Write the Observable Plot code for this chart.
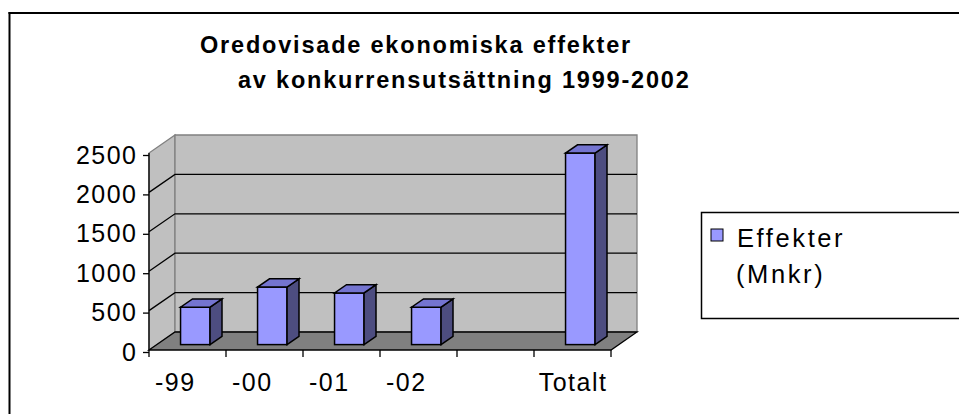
<!DOCTYPE html>
<html><head><meta charset="utf-8">
<script src="https://cdn.jsdelivr.net/npm/d3@7"></script>
<script src="https://cdn.jsdelivr.net/npm/@observablehq/plot@0.6"></script>
<style>
html,body{margin:0;padding:0;background:#fff;}
#wrap{position:relative;width:959px;height:414px;overflow:hidden;font-family:"Liberation Sans",Arial,sans-serif;}
#wrap > svg{position:absolute;left:0;top:0;}
</style></head><body><div id="wrap"></div>
<script>
// ---- data ----
const categories = ["-99", "-00", "-01", "-02", " ", "Totalt"];
const tickLabels = ["-99   ", "-00   ", "-01   ", "-02   ", "", "Totalt"];
const values = [475, 730, 655, 475, null, 2430];
const yTicks = [0, 500, 1000, 1500, 2000, 2500];
const gridValues = [500, 1000, 1500, 2000];
const legendLines = ["Effekter", "(Mnkr)"];
const titleLines = ["Oredovisade ekonomiska effekter", "av konkurrensutsättning 1999-2002"];

const data = categories.map((c, i) => ({cat: c, value: values[i]})).filter(d => d.value != null);

// 3D geometry (pixels)
const DX = 26, DY = -18, F1 = 0.3, F2 = 0.76, INSET = 23.75;
const NS = "http://www.w3.org/2000/svg";
function el(tag, attrs, text) {
  const e = document.createElementNS(NS, tag);
  for (const k in attrs) e.setAttribute(k, attrs[k]);
  if (text != null) e.textContent = text;
  return e;
}
const pts = a => a.map(p => p.join(",")).join(" ");

function walls(index, scales) {
  const {x, y} = scales;
  const [x0, x1] = x.range();
  const y0 = y(0), yT = y(yTicks[yTicks.length - 1]);
  const g = el("g", {});
  g.append(el("polygon", {points: pts([[x0, y0], [x0 + DX, y0 + DY], [x0 + DX, yT + DY], [x0, yT]]), fill: "#C0C0C0", stroke: "#808080", "stroke-width": 1.3}));
  g.append(el("polygon", {points: pts([[x0 + DX, y0 + DY], [x1 + DX, y0 + DY], [x1 + DX, yT + DY], [x0 + DX, yT + DY]]), fill: "#C0C0C0", stroke: "#808080", "stroke-width": 1.3}));
  for (const v of gridValues) {
    const yy = y(v);
    g.append(el("polyline", {points: pts([[x0, yy], [x0 + DX, yy + DY], [x1 + DX, yy + DY]]), fill: "none", stroke: "black", "stroke-width": 1.3}));
  }
  g.append(el("polygon", {points: pts([[x0, y0], [x1, y0], [x1 + DX, y0 + DY], [x0 + DX, y0 + DY]]), fill: "#808080", stroke: "black", "stroke-width": 1.3}));
  g.append(el("line", {x1: x0, x2: x0, y1: y0, y2: yT, stroke: "black", "stroke-width": 1.3}));
  const step = x.step();
  for (let i = 0; i <= categories.length; i++) {
    const xx = x0 + i * step;
    g.append(el("line", {x1: xx, x2: xx, y1: y0, y2: y0 + 7, stroke: "black", "stroke-width": 1.3}));
  }
  return g;
}

function bars3d(index, scales) {
  const {x, y} = scales;
  const w = x.bandwidth() - 2 * INSET;
  const ddx = (F2 - F1) * DX, ddy = (F2 - F1) * DY;
  const g = el("g", {stroke: "black", "stroke-width": 1.5, "stroke-linejoin": "miter"});
  for (const d of data) {
    const l = x(d.cat) + INSET + F1 * DX, r = l + w;
    const b = y(0) + F1 * DY, t = y(d.value) + F1 * DY;
    g.append(el("polygon", {points: pts([[r, b], [r + ddx, b + ddy], [r + ddx, t + ddy], [r, t]]), fill: "#4D4D80"}));
    g.append(el("polygon", {points: pts([[l, t], [r, t], [r + ddx, t + ddy], [l + ddx, t + ddy]]), fill: "#7474D0"}));
  }
  return g;
}

const chart = Plot.plot({
  width: 959, height: 414,
  marginLeft: 149, marginRight: 348, marginTop: 153, marginBottom: 64,
  style: {fontFamily: "'Liberation Sans', Arial, sans-serif", fontSize: "25px", letterSpacing: "1.5px", color: "black", background: "white"},
  x: {type: "band", domain: categories, padding: 0, label: null},
  y: {domain: [0, 2500], label: null},
  marks: [
    walls,
    Plot.barY(data, {x: "cat", y: "value", fill: "#9999FF", stroke: "black", strokeWidth: 1.5, insetLeft: INSET, insetRight: INSET, dx: F1 * DX, dy: F1 * DY}),
    bars3d,
    Plot.axisY({ticks: yTicks, tickSize: 6, tickPadding: 6, fontSize: 25, dy: 2, strokeWidth: 1.3, tickFormat: d => String(d)}),
    Plot.axisX({tickSize: 0, tickPadding: 23, fontSize: 25, tickFormat: d => tickLabels[categories.indexOf(d)].replace(/ /g, "\u00a0")})
  ]
});
const wrap = document.getElementById("wrap");
wrap.append(chart);

// overlay: outer frame, title, legend
const ov = el("svg", {width: 959, height: 414, viewBox: "0 0 959 414"});
ov.style.pointerEvents = "none";
ov.append(el("line", {x1: 8.5, x2: 970, y1: 13, y2: 13, stroke: "black", "stroke-width": 2}));
ov.append(el("line", {x1: 9.5, x2: 9.5, y1: 12, y2: 420, stroke: "black", "stroke-width": 2}));
const tStyle = {"font-family": "'Liberation Sans', Arial, sans-serif", "font-weight": "bold", "font-size": 23.5, "letter-spacing": "1.8px", fill: "black"};
ov.append(el("text", Object.assign({x: 200, y: 53}, tStyle), titleLines[0]));
ov.append(el("text", Object.assign({x: 238, y: 88}, tStyle), titleLines[1]));
ov.append(el("rect", {x: 701.5, y: 212.5, width: 300, height: 106, fill: "white", stroke: "black", "stroke-width": 1.5}));
ov.append(el("rect", {x: 711, y: 229, width: 12, height: 12, fill: "#9999FF", stroke: "black", "stroke-width": 1}));
const lStyle = {"font-family": "'Liberation Sans', Arial, sans-serif", "font-size": 25.5, "letter-spacing": "2.6px", fill: "black"};
ov.append(el("text", Object.assign({x: 737, y: 246.7}, lStyle), legendLines[0]));
ov.append(el("text", Object.assign({x: 736, y: 283.3}, lStyle), legendLines[1]));
wrap.append(ov);
</script>
</body></html>
